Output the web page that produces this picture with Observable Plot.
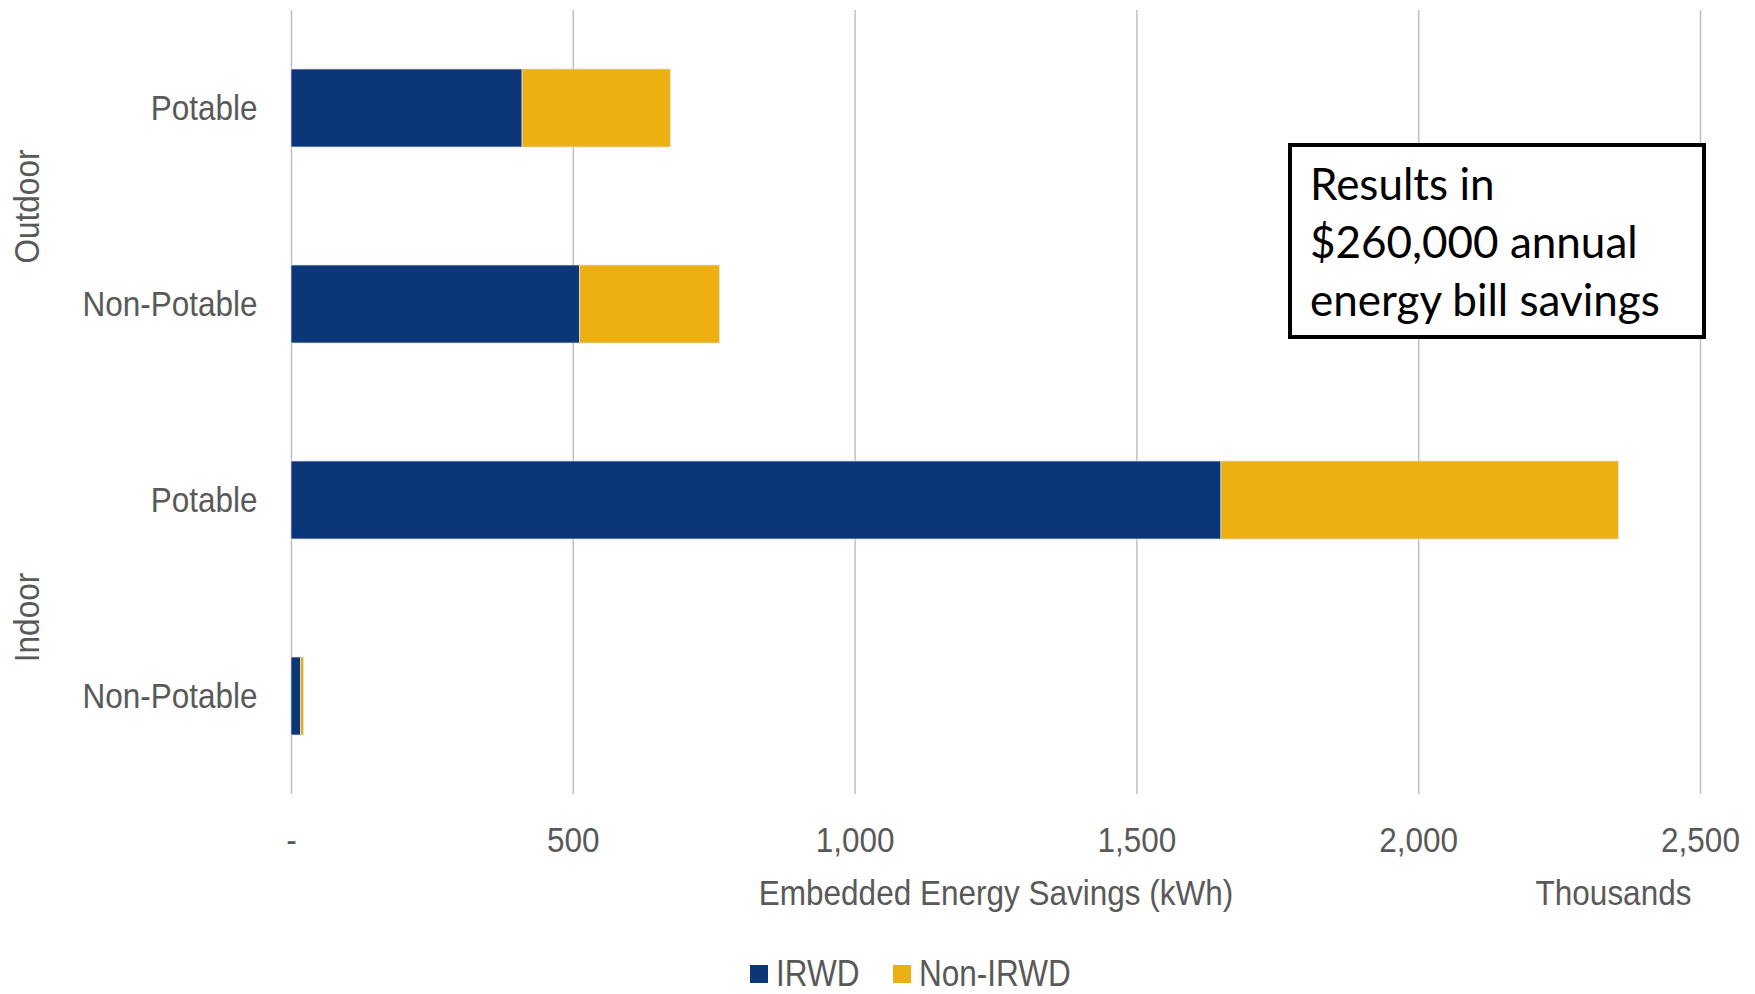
<!DOCTYPE html>
<html>
<head>
<meta charset="utf-8">
<script src="https://cdn.jsdelivr.net/npm/d3@7"></script>
<script src="https://cdn.jsdelivr.net/npm/@observablehq/plot@0.6"></script>
<style>
  html, body { margin: 0; padding: 0; background: #fff; overflow: hidden; }
  #wrap { position: relative; width: 1755px; height: 994px; }
  #note {
    position: absolute; left: 1288px; top: 143px; width: 418px; height: 196px;
    box-sizing: border-box; border: 4px solid #000; background: #fff;
    font-family: Lato, "Open Sans", sans-serif; font-size: 44px; line-height: 58px;
    color: #000; padding: 7px 0 0 18px; white-space: nowrap;
  }
  #legend {
    position: absolute; left: 750px; top: 954px; height: 40px;
    display: flex; align-items: center; color: #595959; font-size: 36px; line-height: 40px;
    font-family: "Liberation Sans", Arial, sans-serif;
  }
  #legend .item { display: flex; align-items: center; margin-right: 34px; }
  #legend .sw { width: 18px; height: 18px; margin-right: 8px; flex: none; }
  #legend .lbl { display: inline-block; transform-origin: left center; }
</style>
</head>
<body>
<div id="wrap"></div>
<script>
// ---- data ----
const groups = ["Outdoor", "Outdoor", "Indoor", "Indoor"];
const types = ["Potable", "Non-Potable", "Potable", "Non-Potable"];
const irwd = [410, 512, 1650, 17];          // thousands kWh
const nonIrwd = [263, 248, 705, 5];         // thousands kWh
const series = ["IRWD", "Non-IRWD"];
const seriesColors = ["#0b3677", "#edb012"];
const groupOrder = ["Outdoor", "Indoor"];
const typeOrder = ["Potable", "Non-Potable"];
const xTicks = [0, 500, 1000, 1500, 2000, 2500];
const xTitle = "Embedded Energy Savings (kWh)";
const xUnit = "Thousands";
const noteLines = ["Results in", "$260,000 annual", "energy bill savings"];

const rows = [];
groups.forEach((g, i) => {
  rows.push({group: g, type: types[i], series: series[0], value: irwd[i]});
  rows.push({group: g, type: types[i], series: series[1], value: nonIrwd[i]});
});

const NARROW = 0.875; // emulate Arial Narrow from Arial-metric Liberation Sans

const chart = Plot.plot({
  width: 1755,
  height: 954,
  marginLeft: 291,
  marginRight: 55,
  marginTop: 10,
  marginBottom: 160,
  style: {fontFamily: '"Liberation Sans", Arial, sans-serif', fontSize: "36px", color: "#595959", background: "#fff", overflow: "visible"},
  x: {
    domain: [0, 2500], ticks: xTicks, tickSize: 0, tickPadding: 32, label: null,
    tickFormat: d => d === 0 ? "-" : d3.format(",")(d)
  },
  y: {domain: typeOrder, paddingInner: 0.6, paddingOuter: 0.3, tickSize: 0, tickPadding: 34, label: null},
  fy: {domain: groupOrder, padding: 0, axis: null, label: null},
  color: {domain: series, range: seriesColors},
  marks: [
    Plot.ruleX(xTicks, {stroke: "#c0c0c0", strokeWidth: 1.5}),
    Plot.barX(rows, {x: "value", y: "type", fy: "group", fill: "series", stroke: "#dcdcdc", strokeWidth: 0.75}),
    Plot.text([groupOrder[0]], {fy: d => d, text: d => d, frameAnchor: "left", textAnchor: "middle", rotate: -90, dx: -264, fill: "#595959"}),
    Plot.text([groupOrder[1]], {fy: d => d, text: d => d, frameAnchor: "left", textAnchor: "middle", rotate: -90, dx: -264, dy: 19, fill: "#595959"}),
    Plot.text([xTitle], {fy: () => "Indoor", text: d => d, frameAnchor: "bottom", textAnchor: "middle", dy: 110, fill: "#595959"}),
    Plot.text([xUnit], {fy: () => "Indoor", text: d => d, frameAnchor: "bottom-right", textAnchor: "middle", dx: -87, dy: 110, fill: "#595959"})
  ]
});

// condense every SVG text horizontally around its own anchor point
chart.querySelectorAll("text").forEach(t => {
  const x = +(t.getAttribute("x") || 0);
  const tr = t.getAttribute("transform") || "";
  t.setAttribute("transform", `${tr} translate(${x},0) scale(${NARROW},1) translate(${-x},0)`);
});

const wrap = document.getElementById("wrap");
wrap.appendChild(chart);

const note = document.createElement("div");
note.id = "note";
note.innerHTML = noteLines.map(t => `<div>${t}</div>`).join("");
wrap.appendChild(note);

const legend = document.createElement("div");
legend.id = "legend";
series.forEach((s, i) => {
  const item = document.createElement("div");
  item.className = "item";
  item.innerHTML = `<span class="sw" style="background:${seriesColors[i]}"></span><span class="lbl">${s}</span>`;
  legend.appendChild(item);
});
wrap.appendChild(legend);
legend.querySelectorAll(".lbl").forEach(l => {
  const w = l.getBoundingClientRect().width;
  l.style.transform = `scaleX(${NARROW})`;
  l.style.marginRight = `${-(1 - NARROW) * w}px`;
});
</script>
</body>
</html>
